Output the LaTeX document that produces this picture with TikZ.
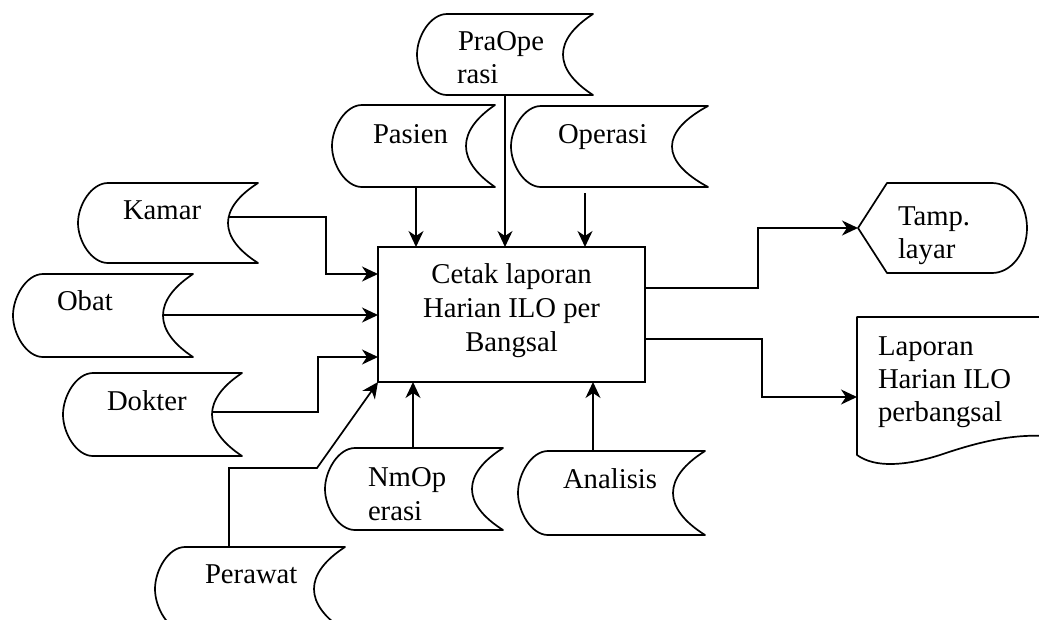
\documentclass[tikz,border=0pt]{standalone}
\usepackage{fontspec}
\setmainfont{Liberation Serif}
\usetikzlibrary{arrows.meta}

% Stored-data symbol: #1 left x, #2 top y, #3 innermost x of the concave end,
% #4 right x, #5 bottom y (picture units, y grows downwards)
\newcommand\storeddata[5]{%
  \draw[outline] (#4,#2) -- ({#1+30},#2)
    .. controls ({#1+13.4},#2) and (#1,{#2+0.276*(#5-#2)}) .. (#1,{(#2+#5)/2})
    .. controls (#1,{#5-0.276*(#5-#2)}) and ({#1+13.4},#5) .. ({#1+30},#5)
    -- (#4,#5)
    .. controls ({(4*#3-#4)/3},{#5-0.32*(#5-#2)}) and ({(4*#3-#4)/3},{#2+0.32*(#5-#2)}) .. (#4,#2)
    -- cycle;}

\begin{document}
\begin{tikzpicture}[x=1pt,y=-1pt,
  every node/.style={inner sep=0pt, outer sep=0pt},
  lbl/.style={anchor=base west, font=\fontsize{28.7}{33}\selectfont},
  clbl/.style={anchor=base, font=\fontsize{28.7}{33}\selectfont},
  outline/.style={line width=1.7pt, line join=round},
  conn/.style={line width=1.7pt},
  arr/.style={conn, -{Stealth[length=16pt,width=15pt,inset=5pt]}},
]
\useasboundingbox (0,0) rectangle (1039,619);
\clip (0,0) rectangle (1039,619);

% ---- data stores ----
\storeddata{417}{14}{563}{593}{95}
\node[lbl] (pra1) at (458,50) {PraOpe};
\node[lbl] (pra2) at (457,83) {rasi};

\storeddata{332}{105}{466}{495}{187}
\node[lbl] (pasien) at (373,143) {Pasien};

\storeddata{511}{106}{672}{708}{187}
\node[lbl] (operasi) at (558,143) {Operasi};

\storeddata{78}{183}{228}{258}{263}
\node[lbl] (kamar) at (123,219) {Kamar};

\storeddata{13}{274}{163}{193}{357}
\node[lbl] (obat) at (57,310) {Obat};

\storeddata{63}{373}{212}{242}{456}
\node[lbl] (dokter) at (107,410) {Dokter};

\storeddata{325}{448}{472}{503}{530}
\node[lbl] (nm1) at (368,486) {NmOp};
\node[lbl] (nm2) at (368,520) {erasi};

\storeddata{518}{451}{673}{705}{535}
\node[lbl] (analisis) at (563,488) {Analisis};

\storeddata{155}{547}{314}{345}{631}
\node[lbl] (perawat) at (205,583) {Perawat};

% ---- process ----
\node[draw, line width=1.7pt, minimum width=267pt, minimum height=135pt]
  (proc) at (511.5,314.5) {};
\node[clbl] (proc1) at (511.5,283) {Cetak laporan};
\node[clbl] (proc2) at (511.5,317) {Harian ILO per};
\node[clbl] (proc3) at (511.5,351) {Bangsal};

% ---- display ----
\draw[outline] (858,228) -- (887,183) -- (992,183)
  .. controls (1011,183) and (1027,203) .. (1027,228)
  .. controls (1027,253) and (1011,273) .. (992,273)
  -- (887,273) -- cycle;
\coordinate (disp) at (858,228);
\node[lbl] (tamp1) at (898,225) {Tamp.};
\node[lbl] (tamp2) at (898,258) {layar};

% ---- document ----
\draw[outline] (1045,317) -- (857,317) -- (857,455)
  .. controls (875,468) and (905,466) .. (940,455)
  .. controls (975,443) and (1010,434) .. (1045,436);
\coordinate (doc) at (857,397);
\node[lbl] (lap1) at (878,355) {Laporan};
\node[lbl] (lap2) at (878,388) {Harian ILO};
\node[lbl] (lap3) at (878,421) {perbangsal};

% ---- connector end points on the stores ----
\coordinate (praBot) at (505,95);
\coordinate (pasienBot) at (416,187);
\coordinate (opBot) at (585,193);
\coordinate (kamarOut) at (229,217);
\coordinate (obatOut) at (164,315);
\coordinate (dokterOut) at (213,412);
\coordinate (perawatTop) at (229,547);
\coordinate (nmTop) at (413,448);
\coordinate (anTop) at (593,451);

% ---- inputs ----
\draw[arr, line width=1.2pt] (praBot) -- (praBot |- proc.north);
\draw[arr] (pasienBot) -- (pasienBot |- proc.north);
\draw[arr] (opBot) -- (opBot |- proc.north);
\draw[arr] (kamarOut) -- (326,217) |- (proc.west |- 0,274);
\draw[arr] (obatOut) -- (proc.west |- obatOut);
\draw[arr] (dokterOut) -- (318,412) |- (proc.west |- 0,357);
\draw[arr] (perawatTop) |- (317,468) -- (proc.south west);
\draw[arr] (nmTop) -- (nmTop |- proc.south);
\draw[arr] (anTop) -- (anTop |- proc.south);

% ---- outputs ----
\draw[arr] (proc.east |- 0,288) -| (758,228) -- (disp);
\draw[arr] (proc.east |- 0,339) -| (762,397) -- (doc);
\end{tikzpicture}
\end{document}
